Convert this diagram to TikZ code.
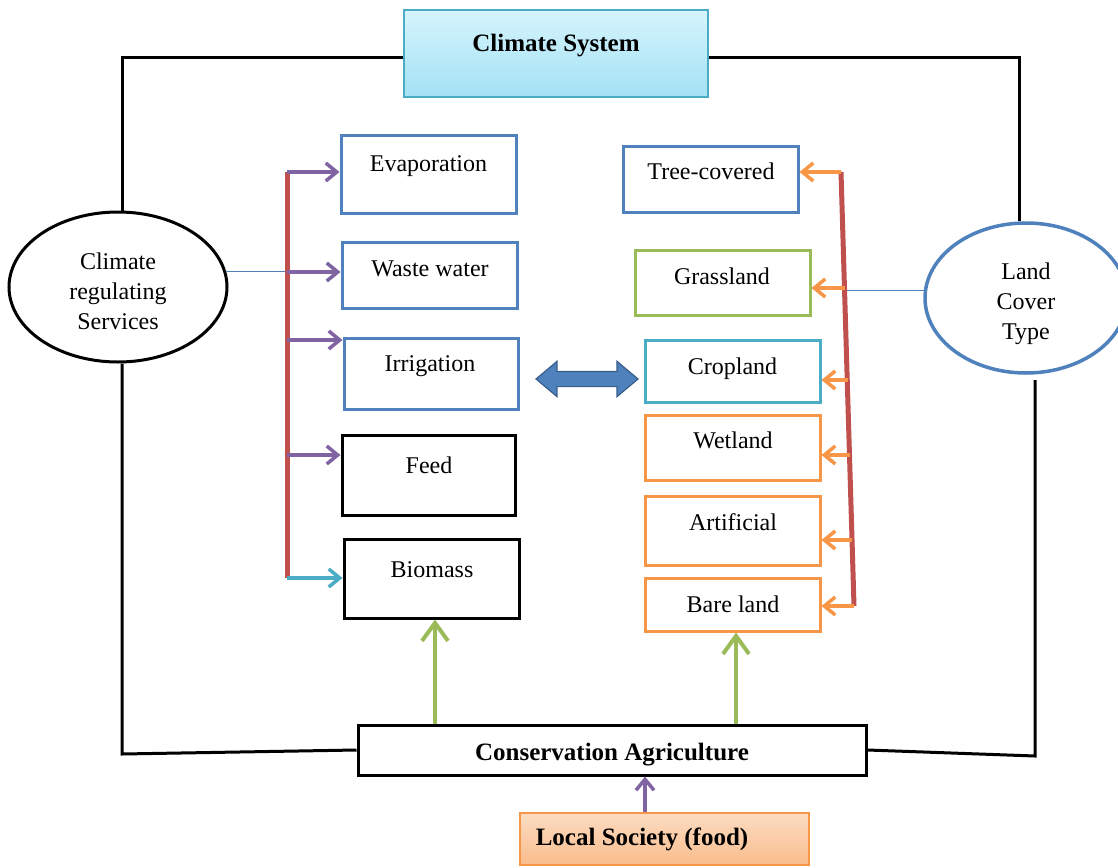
\documentclass[tikz,border=0pt]{standalone}
\usepackage{fontspec}
\setmainfont{Liberation Serif}
\usetikzlibrary{arrows.meta,shapes.geometric,shapes.arrows}
\definecolor{cblue}{HTML}{4F81BD}
\definecolor{cred}{HTML}{C0504D}
\definecolor{cgreen}{HTML}{9BBB59}
\definecolor{cpurple}{HTML}{8064A2}
\definecolor{ccyan}{HTML}{4BACC6}
\definecolor{corange}{HTML}{F79646}
\definecolor{cdblue}{HTML}{385D8A}
\definecolor{skytop}{HTML}{D6F4FC}
\definecolor{skybot}{HTML}{A3E2F5}
\definecolor{peachtop}{HTML}{FCDCC2}
\definecolor{peachbot}{HTML}{F9BC8C}
\begin{document}
\begin{tikzpicture}[x=1pt,y=-1pt,
  box/.style={draw, line width=3pt, inner sep=0pt, fill=white},
  lbl/.style={font=\fontsize{24}{30}\selectfont, inner sep=0pt, anchor=base},
  blbl/.style={font=\fontsize{25}{30}\selectfont\bfseries, inner sep=0pt, anchor=base},
  oval/.style={ellipse, line width=3pt, inner sep=0pt, fill=white},
  ovaltext/.style={font=\fontsize{24}{30}\selectfont, inner sep=0pt, align=center, anchor=center},
  frameline/.style={line width=3pt, line join=miter},
  redbar/.style={draw=cred, line width=5pt},
  thinlink/.style={draw=cblue, line width=1pt},
  parrow/.style={draw=cpurple, line width=3.5pt, -{Straight Barb[length=11pt,width=18pt]}},
  carrow/.style={draw=ccyan, line width=3.5pt, -{Straight Barb[length=11pt,width=18pt]}},
  oarrow/.style={draw=corange, line width=3.5pt, -{Straight Barb[length=11pt,width=18pt]}},
  garrow/.style={draw=cgreen, line width=4pt, -{Straight Barb[length=18pt,width=26pt]}}]
\useasboundingbox (0,0) rectangle (1118,867);
\fill[white] (0,0) rectangle (1118,867);

% frame coordinates
\coordinate (fTL) at (122,58);
\coordinate (fTR) at (1019,58);
\coordinate (fBL) at (122,754);
\coordinate (fRM) at (1035,380);
\coordinate (fBR) at (1035,756);

% ellipses
\node[oval, draw=black, minimum width=218pt, minimum height=150pt] (crs) at (118,287) {};
\node[ovaltext] (crst) at (118,291) {Climate\\regulating\\Services};
\node[oval, draw=cblue, line width=3.5pt, minimum width=202pt, minimum height=150pt] (lct) at (1026,298) {};
\node[ovaltext] (lctt) at (1026,304) {Land\\Cover\\Type};

% top and bottom boxes
\node[draw=ccyan, line width=1.5pt, top color=skytop, bottom color=skybot, inner sep=0pt,
      minimum width=304pt, minimum height=87pt] (climate) at (556,53.5) {};
\node[blbl] (climatet) at (556,52) {Climate System};
\node[box, minimum width=508pt, minimum height=50pt] (cons) at (612,750) {};
\node[blbl] (const) at (612,760) {Conservation Agriculture};
\node[draw=corange, line width=1.5pt, top color=peachtop, bottom color=peachbot, inner sep=0pt,
      minimum width=289pt, minimum height=52pt] (local) at (664.5,839) {};
\node[blbl] (localt) at (642,845) {Local Society (food)};

% outer frame
\draw[frameline] (fTL -| climate.west) -- (fTL) -- (fTL |- crs.north);
\draw[frameline] (fTL |- crs.south) -- (fBL) -- (cons.west);
\draw[frameline] (fTR -| climate.east) -- (fTR) -- (fTR |- lct.north);
\draw[frameline] (fRM) -- (fBR) -- (cons.east);

% left column
\node[box, draw=cblue, minimum width=175pt, minimum height=78pt] (evap) at (428.5,174) {};
\node[lbl] (evapt) at (428.5,171) {Evaporation};
\node[box, draw=cblue, minimum width=175pt, minimum height=66pt] (waste) at (429.5,275) {};
\node[lbl] (wastet) at (430,276) {Waste water};
\node[box, draw=cblue, minimum width=174pt, minimum height=71pt] (irr) at (431,373.5) {};
\node[lbl] (irrt) at (430,371) {Irrigation};
\node[box, draw=black, minimum width=173pt, minimum height=80pt] (feed) at (428.5,475) {};
\node[lbl] (feedt) at (429,473) {Feed};
\node[box, draw=black, minimum width=175pt, minimum height=79pt] (biom) at (431.5,578.5) {};
\node[lbl] (biomt) at (432,577) {Biomass};

% right column
\node[box, draw=cblue, minimum width=175pt, minimum height=66pt] (tree) at (710.5,179) {};
\node[lbl] (treet) at (711,179) {Tree-covered};
\node[box, draw=cgreen, minimum width=175pt, minimum height=65pt] (grass) at (722.5,282.5) {};
\node[lbl] (grasst) at (722,284) {Grassland};
\node[box, draw=ccyan, minimum width=175pt, minimum height=62pt] (crop) at (732.5,371) {};
\node[lbl] (cropt) at (732.5,374) {Cropland};
\node[box, draw=corange, minimum width=175pt, minimum height=65pt] (wet) at (732.5,447.5) {};
\node[lbl] (wett) at (733,448) {Wetland};
\node[box, draw=corange, minimum width=175pt, minimum height=69pt] (art) at (732.5,530.5) {};
\node[lbl] (artt) at (733,530) {Artificial};
\node[box, draw=corange, minimum width=175pt, minimum height=53pt] (bare) at (732.5,604.5) {};
\node[lbl] (baret) at (733,612) {Bare land};

% double arrow between columns
\node[double arrow, draw=cdblue, fill=cblue, line width=1.2pt, inner sep=7pt,
      double arrow head extend=10pt, double arrow tip angle=80,
      minimum height=102pt] (dbl) at (587,379) {};

% left red bar and arrows
\coordinate (l1) at (287,172);
\coordinate (l2) at (287,272);
\coordinate (l3) at (287,340);
\coordinate (l4) at (287,455);
\coordinate (l5) at (287,578);
\draw[thinlink] (crs.8) -- (crs.8 -| l2);
\draw[redbar] (l1) -- (l5);
\draw[parrow] (l1) -- (l1 -| evap.west);
\draw[parrow] (l2) -- (l2 -| waste.west);
\draw[parrow] (l3) -- (l3 -| irr.west);
\draw[parrow] (l4) -- (l4 -| feed.west);
\draw[carrow] (l5) -- (l5 -| biom.west);

% right red bar and arrows
\coordinate (r1) at (841,172);
\coordinate (r2) at (844.5,288);
\coordinate (r3) at (847.5,380);
\coordinate (r4) at (849.5,455);
\coordinate (r5) at (852,540);
\coordinate (r6) at (854,606);
\draw[thinlink] (lct.176) -- (lct.176 -| r2);
\draw[redbar] (r1) -- (r6);
\draw[oarrow] (r1) -- (r1 -| tree.east);
\draw[oarrow] (r2) -- (r2 -| grass.east);
\draw[oarrow] (r3) -- (r3 -| crop.east);
\draw[oarrow] (r4) -- (r4 -| wet.east);
\draw[oarrow] (r5) -- (r5 -| art.east);
\draw[oarrow] (r6) -- (r6 -| bare.east);

% green arrows and bottom arrow
\draw[garrow] ([xshift=3.5pt]biom.south |- cons.north) -- ([xshift=3.5pt]biom.south);
\draw[garrow] ([xshift=3.5pt]bare.south |- cons.north) -- ([xshift=3.5pt]bare.south);
\draw[parrow] ([xshift=-19.5pt]local.north) -- ([xshift=-19.5pt]local.north |- cons.south);
\end{tikzpicture}
\end{document}
